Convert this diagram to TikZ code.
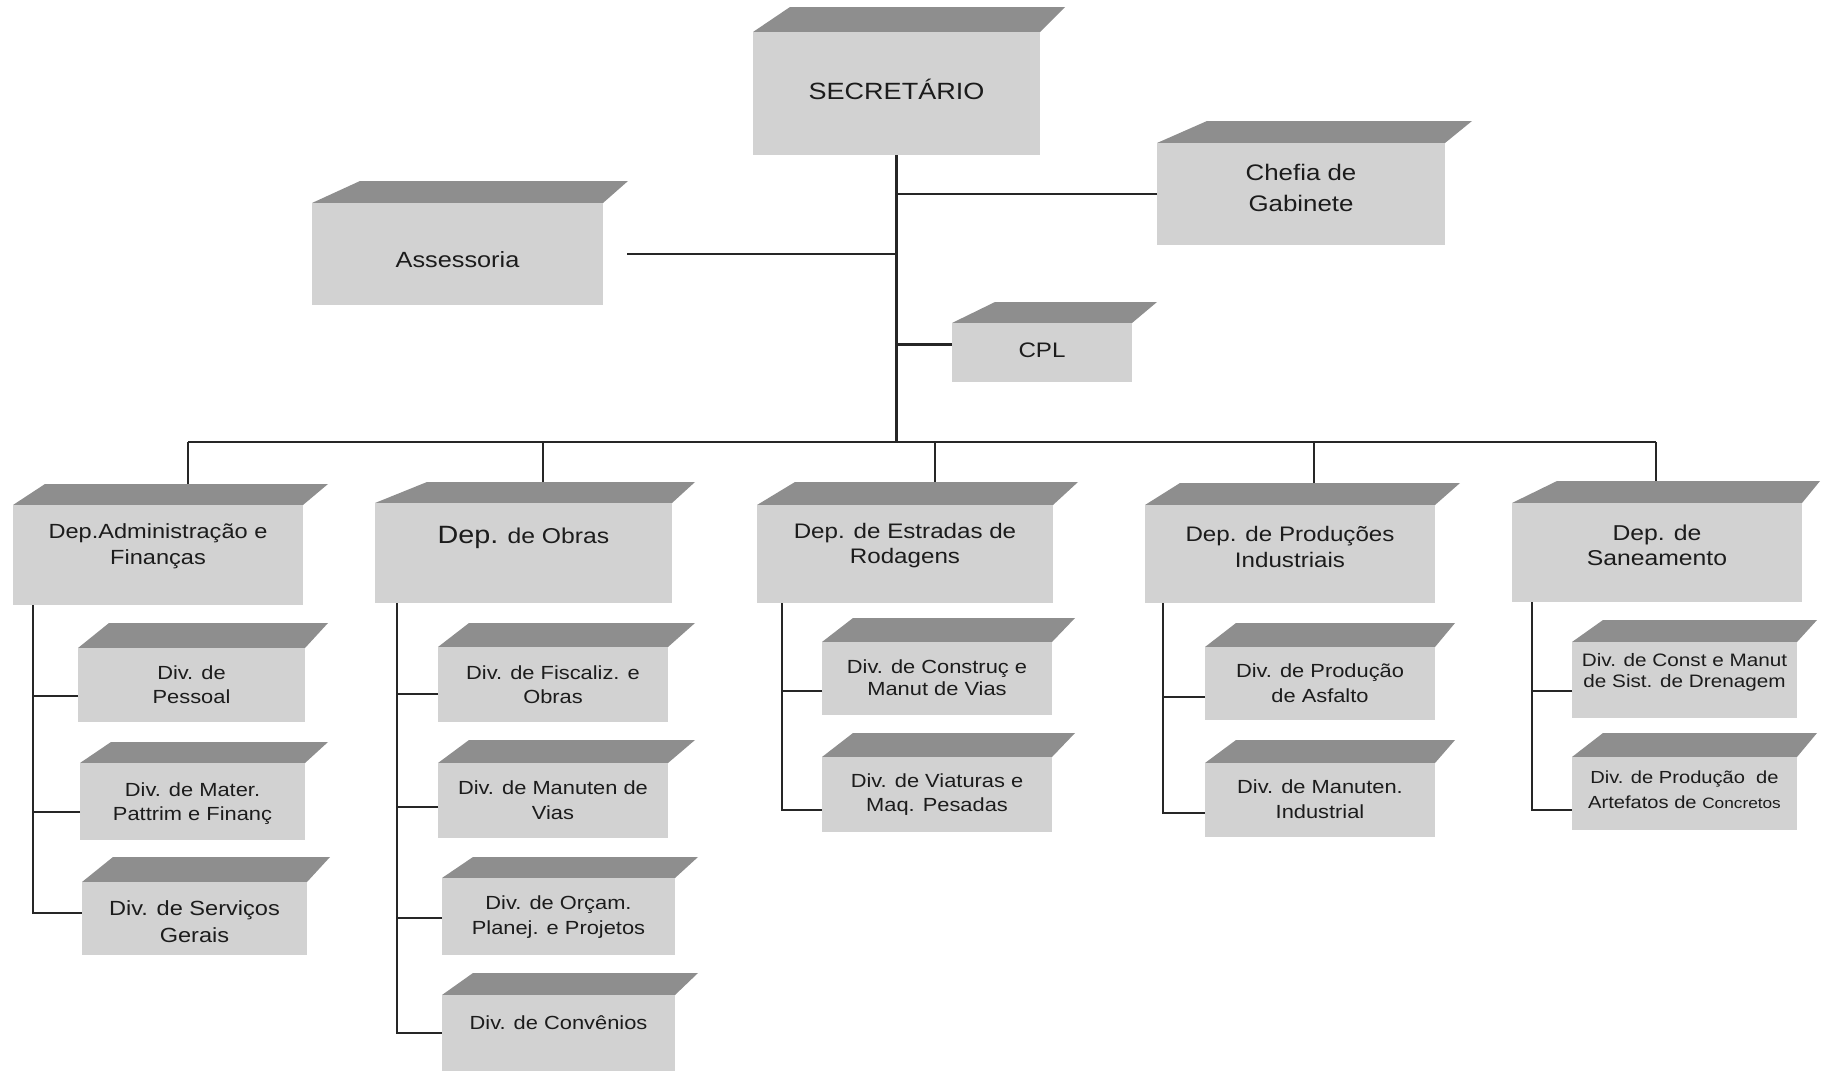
\documentclass[tikz,border=0pt]{standalone}
\usepackage{fontspec}
\setmainfont{Liberation Sans}[FakeStretch=1.15]
\newcommand\fsz[2]{\fontsize{#1}{#2}\selectfont}
\definecolor{frontgray}{RGB}{210,210,210}
\definecolor{topgray}{RGB}{142,142,142}
\definecolor{linegray}{RGB}{38,38,38}
\definecolor{inkgray}{RGB}{28,28,28}
\tikzset{
  topslant/.store in=\bxslant, topslant=40,
  topover/.store in=\bxover, topover=24,
  boxfont/.style={boxtext/.append style={font=#1}},
  frontface/.style={rectangle, fill=frontgray, draw=none, inner sep=0pt, outer sep=0pt},
  boxtext/.style={text=inkgray, align=center, inner sep=0pt},
  link/.style={draw=linegray, line width=2.2pt},
}
% \orgbox[options]{name}{left}{right}{top of lid}{top of front}{bottom}{text y}{text}
\newcommand\orgbox[9][]{%
  \begin{scope}[#1]
    \fill[topgray] (#3,#6) -- (#3+\bxslant,#5) -- (#4+\bxover,#5) -- (#4,#6) -- cycle;
    \node[frontface, minimum width={(#4-#3)*1pt}, minimum height={(#7-#6)*1pt}]
      (#2) at ({(#3+#4)/2},{(#6+#7)/2}) {};
    \node[boxtext] (#2-t) at ({(#3+#4)/2},#8) {#9};
  \end{scope}}
\begin{document}
\begin{tikzpicture}[x=1pt,y=-1pt]
\useasboundingbox (0,0) rectangle (1821,1071);
\fill[white] (0,0) rectangle (1821,1071);

% top level
\orgbox[topslant=37,topover=25,boxfont={\fsz{23.5}{28}}]{sec}{753}{1040}{7}{32}{155}{89}{SECRETÁRIO}
\orgbox[topslant=50,topover=27,boxfont={\fsz{22.5}{31}}]{chefia}{1157}{1445}{121}{143}{245}{188}{Chefia de\\Gabinete}
\orgbox[topslant=48,topover=25,boxfont={\fsz{22}{26}}]{assess}{312}{603}{181}{203}{305}{260}{Assessoria}
\orgbox[topslant=43,topover=25,boxfont={\fsz{21}{25}}]{cpl}{952}{1132}{302}{323}{382}{350}{CPL}

% departments
\orgbox[topslant=32,topover=25,boxfont={\fsz{20.5}{26}}]{d1}{13}{303}{484}{505}{605}{546}{Dep.Administração e\\Finanças}
\orgbox[topslant=52,topover=23,boxfont={\fsz{21.5}{25}}]{d2}{375}{672}{482}{503}{603}{537}{{\fsz{25}{28}Dep.} de Obras}
\orgbox[topslant=38,topover=25,boxfont={\fsz{21}{25}}]{d3}{757}{1053}{482}{505}{603}{545.5}{Dep. de Estradas de\\Rodagens}
\orgbox[topslant=35,topover=25,boxfont={\fsz{21}{26}}]{d4}{1145}{1435}{483}{505}{603}{546.5}{Dep. de Produções\\Industriais}
\orgbox[topslant=45,topover=18,boxfont={\fsz{21.5}{25}}]{d5}{1512}{1802}{481}{503}{602}{545}{Dep. de\\Saneamento}

% divisions
\tikzset{topslant=31,topover=23}
\orgbox[boxfont={\fsz{19}{24}}]{dv11}{78}{305}{623}{648}{722}{685}{Div. de\\Pessoal}
\orgbox[boxfont={\fsz{19}{23.5}}]{dv12}{80}{305}{742}{763}{840}{803.5}{Div. de Mater.\\Pattrim e Finanç}
\orgbox[boxfont={\fsz{20.5}{27}}]{dv13}{82}{307}{857}{882}{955}{921.5}{Div. de Serviços\\Gerais}

\orgbox[topover=27,boxfont={\fsz{19}{24}}]{dv21}{438}{668}{623}{647}{722}{685}{Div. de Fiscaliz. e\\Obras}
\orgbox[topover=27,boxfont={\fsz{19}{25}}]{dv22}{438}{668}{740}{763}{838}{800.5}{Div. de Manuten de\\Vias}
\orgbox[boxfont={\fsz{19}{25}}]{dv23}{442}{675}{857}{878}{955}{917.5}{Div. de Orçam.\\Planej. e Projetos}
\orgbox[boxfont={\fsz{19}{24}}]{dv24}{442}{675}{973}{995}{1071}{1023}{Div. de Convênios}

\orgbox[boxfont={\fsz{19}{22}}]{dv31}{822}{1052}{618}{642}{715}{677.5}{Div. de Construç e\\Manut de Vias}
\orgbox[boxfont={\fsz{19}{24}}]{dv32}{822}{1052}{733}{757}{832}{795}{Div. de Viaturas e\\Maq. Pesadas}

\orgbox[topover=20,boxfont={\fsz{19}{25}}]{dv41}{1205}{1435}{623}{647}{720}{683.5}{Div. de Produção\\de Asfalto}
\orgbox[topover=20,boxfont={\fsz{19}{25}}]{dv42}{1205}{1435}{740}{763}{837}{799.5}{Div. de Manuten.\\Industrial}

\orgbox[topover=20,boxfont={\fsz{18}{21}}]{dv51}{1572}{1797}{620}{642}{718}{672.5}{Div. de Const e Manut\\de Sist. de Drenagem}
\orgbox[topover=20,boxfont={\fsz{17.5}{25}}]{dv52}{1572}{1797}{733}{757}{830}{790}{Div. de Produção\ \ de\\Artefatos de {\fsz{15}{20}Concretos}}

% connectors of the upper level
\coordinate (bus) at (0,442);
\coordinate (d1-in) at (188,484);
\coordinate (d2-in) at (543,482);
\coordinate (d3-in) at (935,482);
\coordinate (d4-in) at (1314,483);
\coordinate (d5-in) at (1656,481);
\draw[link] (sec) -- (sec |- bus);
\draw[link] (chefia.west) -- (chefia.west -| sec);
\draw[link] ([xshift=24pt]assess.east) -- (assess.east -| sec);
\coordinate (cpl-c) at ([yshift=8pt]cpl.west);
\draw[link] (cpl-c) -- (cpl-c -| sec);
\draw[link] (d1-in |- bus) -- (d5-in |- bus);
\foreach \d in {d1,d2,d3,d4,d5}
  \draw[link] (\d-in |- bus) -- (\d-in);

% spines of the departments
\coordinate (d1-s) at ([xshift=20pt]d1.south west);
\coordinate (d2-s) at ([xshift=22pt]d2.south west);
\coordinate (d3-s) at ([xshift=25pt]d3.south west);
\coordinate (d4-s) at ([xshift=18pt]d4.south west);
\coordinate (d5-s) at ([xshift=20pt]d5.south west);
\draw[link] (d1-s) |- ([yshift=5.5pt]dv13.west);
\draw[link] (d2-s) |- (dv24.west);
\draw[link] (d3-s) |- ([yshift=-15.5pt]dv32.west);
\draw[link] (d4-s) |- ([yshift=-13pt]dv42.west);
\draw[link] (d5-s) |- ([yshift=-16.5pt]dv52.west);

% branches to the divisions
\foreach \v/\d/\sh in {dv11/d1/-11, dv12/d1/-10.5, dv21/d2/-9.5, dv22/d2/-6.5,
    dv23/d2/-1.5, dv31/d3/-12.5, dv41/d4/-13.5, dv51/d5/-11}{
  \coordinate (br) at ([yshift=\sh pt]\v.west);
  \draw[link] (br) -- (br -| \d-s);
}
\end{tikzpicture}
\end{document}
